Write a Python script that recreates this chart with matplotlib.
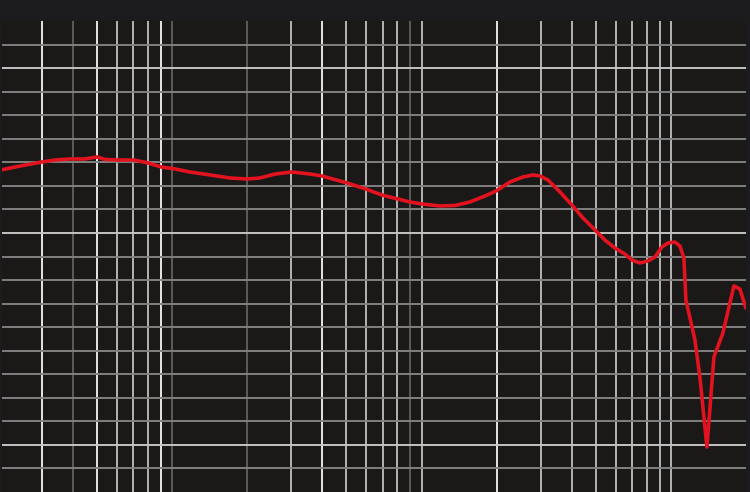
import matplotlib
matplotlib.use("Agg")
import matplotlib.pyplot as plt

# Frequency response curve (Hz, dB)
freq_hz = [20.5, 24.6, 30, 34, 39, 44.8, 50, 53.9, 60.7, 70.4, 80.1, 90.3, 102.8, 118,
           142, 170.8, 199.4, 225, 259, 303, 357, 399, 503, 599, 694, 805, 899, 1000,
           1186, 1362, 1564, 1797, 1989, 2263, 2552, 2798, 2985, 3214, 3591, 4010, 4439,
           4960, 5439, 5965, 6541, 6979, 7513, 8087, 8627, 9204, 9727, 10376, 10866,
           11274, 11484, 12484, 13068, 13944, 14874, 16159, 17882, 18906, 19976]
level_db = [1.36, 1.70, 2.04, 2.21, 2.30, 2.30, 2.47, 2.26, 2.21, 2.21, 1.96, 1.62, 1.45,
            1.19, 0.94, 0.68, 0.60, 0.68, 1.02, 1.19, 1.02, 0.85, 0.26, -0.26, -0.77,
            -1.11, -1.36, -1.53, -1.70, -1.66, -1.36, -0.85, -0.43, 0.34, 0.77, 0.94,
            0.85, 0.51, -0.51, -1.62, -2.72, -3.74, -4.60, -5.28, -5.79, -6.30, -6.55,
            -6.38, -6.04, -5.19, -4.85, -4.77, -5.11, -6.13, -9.70, -13.11, -16.26,
            -22.21, -14.55, -12.51, -8.51, -8.77, -10.38]

# Grid lines
grid_freqs = [30, 40, 50, 60, 70, 80, 90, 100, 200, 300, 400, 500, 600, 700, 800, 900,
              1000, 2000, 3000, 4000, 5000, 6000, 7000, 8000, 9000, 10000]
bright_freqs = [30, 50, 90, 400, 2000]
faint_freqs = [40, 100, 200, 900]
grid_levels = [12, 10, 8, 6, 4, 2, 0, -2, -4, -6, -8, -10, -12, -14, -16, -18, -20, -22, -24]
bright_levels = [10, -4, -22]

fig = plt.figure(figsize=(7.5, 4.92), dpi=100, facecolor="#1c1c1e")
ax = fig.add_axes([2 / 750, 0, 744 / 750, 471 / 492])
ax.set_facecolor("#1a1918")
ax.set_xscale("log")
ax.set_xlim(20.8, 20000)
ax.set_ylim(-26.04, 14.04)

for f in grid_freqs:
    if f in bright_freqs:
        c = "#e6e6e6"
    elif f in faint_freqs:
        c = "#5c5b5a"
    else:
        c = "#b4b4b4"
    ax.axvline(f, color=c, lw=1.4, zorder=1)

for v in grid_levels:
    c = "#c4c4c4" if v in bright_levels else "#808080"
    ax.axhline(v, color=c, lw=1.4, zorder=1)

ax.plot(freq_hz, level_db, color="#e3121f", lw=2.6, solid_joinstyle="round",
        solid_capstyle="round", zorder=3)

for s in ax.spines.values():
    s.set_visible(False)
ax.set_xticks([])
ax.set_yticks([])
ax.minorticks_off()
ax.tick_params(which="both", length=0)

fig.savefig("out.png", dpi=100, facecolor=fig.get_facecolor())
